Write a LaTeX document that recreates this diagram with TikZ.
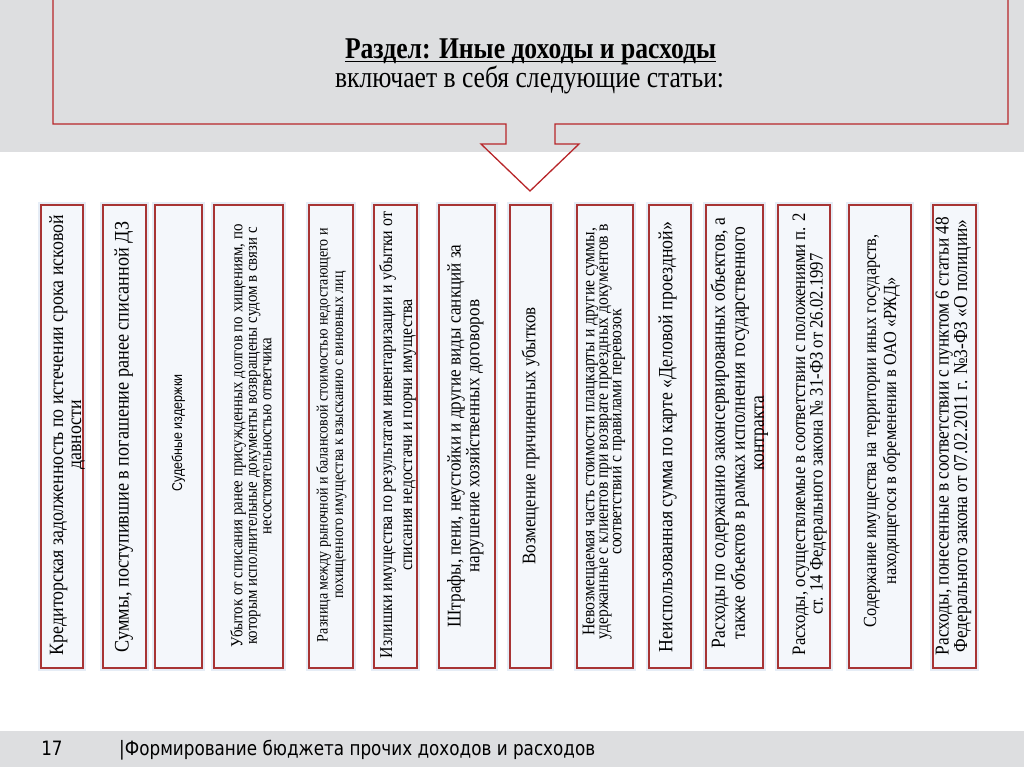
\documentclass[tikz,border=0pt]{standalone}
\usepackage{fontspec}
\usepackage{graphicx}
\setmainfont{Liberation Serif}
\newfontfamily\arialf{Liberation Sans}
\newfontfamily\tahf{DejaVu Sans}
\definecolor{bandgray}{HTML}{DDDEE0}
\definecolor{calloutred}{HTML}{B8262A}
\definecolor{boxred}{HTML}{A83434}
\definecolor{boxfill}{HTML}{F4F7FB}
\definecolor{glowblue}{HTML}{E6EDF6}
\newlength\natw
\def\cmp{0.85}
\def\cmpr{0.88}
\newcommand{\fittext}[4]{% family, target width, pitch, text
  \settowidth\natw{#1\fontsize{10}{12}\selectfont\begin{tabular}{@{}c@{}}#4\end{tabular}}%
  \pgfmathsetmacro\fsz{10*(#2/(\cmpr*\natw/1pt))}%
  \scalebox{\cmpr}[1]{#1\fontsize{\fsz}{#3}\selectfont\begin{tabular}{@{}c@{}}#4\end{tabular}}}
\newcommand{\fitline}[3]{% family, target width, text
  \settowidth\natw{#1\fontsize{10}{12}\selectfont #3}%
  \pgfmathsetmacro\fsz{10*(#2/(\cmp*\natw/1pt))}%
  \global\let\lastfs\fsz
  \scalebox{\cmp}[1]{#1\fontsize{\fsz}{\fsz}\selectfont #3}}
\newcommand{\itemcol}[9]{%
  \fill[glow] ({#2-3},202) rectangle ({#3+3},671);
  \node[itembox, minimum width={(#3-#2)*1pt}, minimum height=463pt] (#1) at ({(#2+#3)/2},436.5) {};
  \node[itemtext] (#1t) at (#4,#9) {\fittext{#6}{#5}{#7}{#8}};
}
\begin{document}
\begin{tikzpicture}[x=1pt,y=-1pt,
  band/.style={fill=bandgray},
  callout/.style={draw=calloutred, line width=1.3pt, line join=miter},
  itembox/.style={draw=boxred, fill=boxfill, line width=1.3pt, inner sep=0pt},
  glow/.style={fill=glowblue},
  itemtext/.style={rotate=90, inner sep=0pt, text=black}]
\useasboundingbox (0,0) rectangle (1024,767);
\fill[white] (0,0) rectangle (1024,767);
% top band and callout
\fill[band] (0,0) rectangle (1024,152);
\draw[callout] (53,-3) -- (53,124) -- (506,124) -- (506,144) -- (481,144) -- (530,191) -- (579,144) -- (555,144) -- (555,124) -- (1008,124) -- (1008,-3);
\node[anchor=base, inner sep=0pt] (title) at (530.5,58.5) {\fitline{\bfseries}{371}{Раздел: Иные доходы и расходы}};
\draw[line width=1.6pt] ([yshift=-3.2pt]title.base west) -- ([yshift=-3.2pt]title.base east);
\node[anchor=base, inner sep=0pt] (sub) at (529.5,87.5) {\fitline{}{389}{включает в себя следующие статьи:}};
% items
\itemcol{b1}{41}{83}{68}{440}{}{18}{Кредиторская задолженность по истечении срока исковой\\давности}{435}
\itemcol{b2}{103}{146}{124}{431}{}{17}{Суммы,  поступившие в погашение ранее списанной ДЗ}{437}
\itemcol{b3}{155}{202}{179}{117}{\arialf}{14}{Судебные издержки}{433}
\itemcol{b4}{214}{283}{253}{423}{}{14.5}{Убыток от списания ранее присужденных долгов по хищениям, по\\которым исполнительные документы возвращены судом в связи с\\несостоятельностью ответчика}{436}
\itemcol{b5}{309}{353}{332}{414}{}{15.5}{Разница между рыночной и балансовой стоимостью недостающего и\\похищенного имущества к  взысканию с виновных лиц}{435}
\itemcol{b6}{374}{417}{398}{446}{}{20}{Излишки имущества по результатам инвентаризации и убытки от\\списания недостачи и порчи имущества}{435}
\itemcol{b7}{439}{495}{466}{383}{}{18}{Штрафы,  пени, неустойки и другие виды санкций за\\нарушение хозяйственных договоров}{436}
\itemcol{b8}{510}{551}{531}{257}{}{17}{Возмещение причиненных убытков}{436}
\itemcol{b9}{577}{633}{604}{415}{}{13.5}{Невозмещаемая  часть стоимости плацкарты и другие суммы,\\удержанные с клиентов при возврате проездных документов в\\соответствии с правилами перевозок}{432}
\itemcol{b10}{649}{691}{668}{430}{}{17}{Неиспользованная сумма по карте «Деловой проездной»}{437}
\itemcol{b11}{706}{763}{740}{430}{}{19}{Расходы по содержанию законсервированных объектов, а\\также объектов в рамках исполнения государственного\\контракта}{433}
\itemcol{b12}{778}{830}{810}{442}{}{16}{Расходы, осуществляемые в соответствии с положениями п. 2\\ст. 14 Федерального закона № 31-ФЗ от 26.02.1997}{434}
\itemcol{b13}{849}{911}{882}{393}{}{20}{Содержание имущества на территории иных государств,\\находящегося в обременении в ОАО «РЖД»}{431}
\itemcol{b14}{933}{976}{954}{438}{}{18}{Расходы, понесенные в соответствии с пунктом 6 статьи 48\\Федерального закона от 07.02.2011 г. №3-ФЗ «О полиции»}{436}
% footer
\fill[band] (0,731) rectangle (1024,767);
\node[anchor=base west, inner sep=0pt] (foot) at (119,755) {\fitline{\tahf}{476}{|Формирование бюджета прочих доходов и расходов}};
\node[anchor=base, inner sep=0pt] (pg) at (52,755) {\scalebox{\cmp}[1]{\tahf\fontsize{\lastfs}{\lastfs}\selectfont 17}};
\end{tikzpicture}
\end{document}
